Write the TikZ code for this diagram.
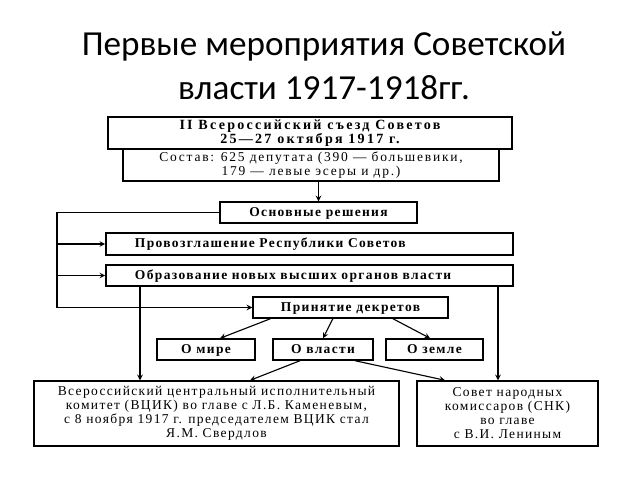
\documentclass[tikz,border=0pt]{standalone}
\usepackage{fontspec}
\setmainfont{Liberation Serif}
\newfontfamily\titlefont{Carlito}
\newfontfamily\boxfont[LetterSpace=10]{Liberation Serif}
\newfontfamily\headfont[LetterSpace=16]{Liberation Serif}
\newfontfamily\wideboxfont[LetterSpace=13]{Liberation Serif}

\begin{document}
\begin{tikzpicture}[
        x=0.025cm, y=-0.025cm,
        box/.style={rectangle, draw, line width=1pt, inner sep=1pt, align=center, font=\boxfont\fontsize{9.6}{10}\selectfont},
        headbox/.style={box, font=\headfont\fontsize{10}{9.6}\selectfont\bfseries},
        decision/.style={box, font=\boxfont\fontsize{9.6}{10}\selectfont\bfseries, minimum height=0.525cm, text height=1.6ex, text depth=0.5ex},
        longdecision/.style={decision, align=left, inner xsep=0.725cm, text width=8.725cm},
        arrow/.style={->, >=stealth, line width=0.8pt}
    ]
\useasboundingbox (0,0) rectangle (640,480);

% Title
        \node[font=\titlefont\fontsize{25}{31}\selectfont, align=center] (title) at (324,66) {Первые мероприятия Советской\\власти 1917-1918гг.};

% Congress
        \node[headbox, minimum width=10.1cm, minimum height=0.8cm] (congress) at (310,133) {II Всероссийский съезд Советов\\25—27 октября 1917 г.};
        \node[box, font=\wideboxfont\fontsize{9.6}{10}\selectfont, minimum width=9.4cm, minimum height=0.8cm] (sostav) at (311,165) {Состав: 625 депутата (390 — большевики,\\179 — левые эсеры и др.)};

% Decisions
        \node[decision, minimum width=4.925cm] (osnov) at (318.5,212.5) {Основные решения};
        \node[longdecision, minimum height=0.55cm] (prov) at (309.5,244) {Провозглашение Республики Советов};
        \node[longdecision] (obraz) at (309.5,275.5) {Образование новых высших органов власти};
        \node[decision, minimum width=4.875cm] (prin) at (350.5,307.5) {Принятие декретов};

% Decrees
        \node[decision, minimum width=2.45cm] (mir) at (206,349.5) {О мире};
        \node[decision, minimum width=2.5cm] (vlast) at (323,349.5) {О власти};
        \node[decision, minimum width=2.425cm] (zemlya) at (434.5,349.5) {О земле};

% Organs
        \node[box, minimum width=9.125cm, minimum height=1.625cm] (vcik) at (216.5,413.5) {Всероссийский центральный исполнительный\\комитет (ВЦИК) во главе с Л.Б. Каменевым,\\с 8 ноября 1917 г. председателем ВЦИК стал\\Я.М. Свердлов};
        \node[box, minimum width=4.525cm, minimum height=1.625cm] (snk) at (507.5,413.5) {Совет народных\\комиссаров (СНК)\\во главе\\с В.И. Лениным};

% Arrows
        \coordinate (bus) at (57,0);
        \coordinate (leftdrop) at (140,0);
        \coordinate (rightdrop) at (498,0);
        \draw[arrow] (osnov.north |- sostav.south) -- (osnov.north);
        \draw[arrow] (osnov.west) -- (osnov.west -| bus) |- (prin.west);
        \draw[arrow] (prov.west -| bus) -- (prov.west);
        \draw[arrow] (obraz.west -| bus) -- (obraz.west);
        \draw[arrow] (leftdrop |- obraz.south) -- (leftdrop |- vcik.north);
        \draw[arrow] (rightdrop |- obraz.south) -- (rightdrop |- snk.north);
        \draw[arrow] ([xshift=-2cm]prin.south) -- ([xshift=0.35cm]mir.north);
        \draw[arrow] ([xshift=-0.44cm]prin.south) -- (vlast.north);
        \draw[arrow] ([xshift=1.06cm]prin.south) -- ([xshift=-0.11cm]zemlya.north);
        \draw[arrow] ([xshift=-0.575cm]vlast.south) -- ([xshift=0.84cm]vcik.north);
        \draw[arrow] ([xshift=0.8cm]vlast.south) -- ([xshift=-1.56cm]snk.north);
    \end{tikzpicture}
\end{document}
